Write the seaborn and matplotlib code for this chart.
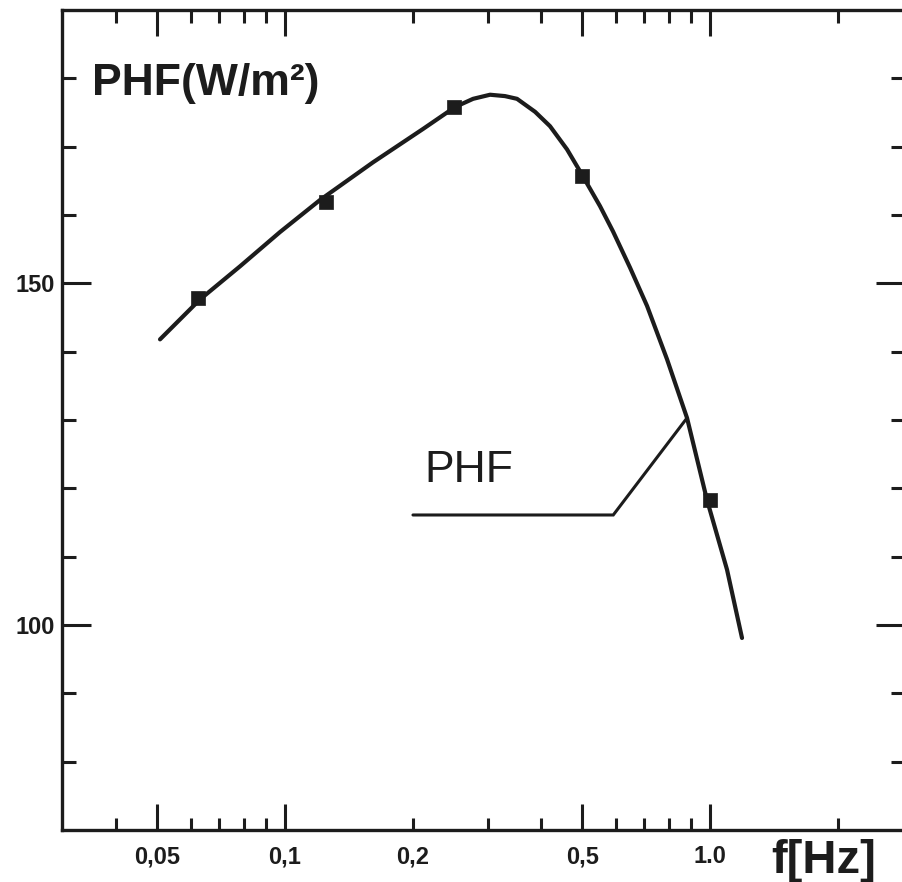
import numpy as np
import pandas as pd
import matplotlib
matplotlib.use("Agg")
import matplotlib.pyplot as plt
import matplotlib.ticker as mticker
import seaborn as sns

# ---- data ----
freq_points = [0.0625, 0.125, 0.25, 0.5, 1.0]
phf_points = [147.9, 161.9, 175.8, 165.7, 118.3]

curve_freq = [0.0508, 0.0631, 0.0784, 0.0973, 0.1209, 0.161, 0.2113, 0.2512,
              0.277, 0.3037, 0.3293, 0.3515, 0.3876, 0.4202, 0.4609, 0.4944,
              0.5510, 0.5912, 0.6483, 0.7109, 0.7921, 0.8829, 0.9838, 1.0965,
              1.1893]
curve_phf = [141.8, 147.65, 152.5, 157.5, 162.2, 167.7, 172.6, 175.8,
             177.0, 177.6, 177.4, 177.0, 175.1, 173.0, 169.6, 166.4,
             161.3, 157.6, 152.3, 146.7, 138.9, 130.3, 118.3, 108.1,
             98.1]

leader_freq = [0.2, 0.592, 0.8829]
leader_phf = [116.1, 116.1, 130.3]

x_major = [0.05, 0.1, 0.5, 1.0]
x_major_labels = ["0,05", "0,1", "0,5", "1.0"]
x_minor = [0.04, 0.06, 0.07, 0.08, 0.09, 0.2, 0.3, 0.4, 0.6, 0.7, 0.8, 0.9, 2.0]
x_minor_labels = ["", "", "", "", "", "0,2", "", "", "", "", "", "", ""]
y_major = [100, 150]
y_minor = [80, 90, 110, 120, 130, 140, 160, 170, 180]

sns.set_style("ticks")
plt.rcParams["font.family"] = ["Liberation Sans", "DejaVu Sans"]

ink = "#1c1c1c"
W, H = 903, 882
fig = plt.figure(figsize=(W / 100, H / 100), dpi=100)
ax = fig.add_axes([62 / W, (H - 830) / H, (905 - 62) / W, (830 - 10) / H])

curve_df = pd.DataFrame({"f": curve_freq, "phf": curve_phf})
pts_df = pd.DataFrame({"f": freq_points, "phf": phf_points})

sns.lineplot(data=curve_df, x="f", y="phf", ax=ax, color=ink, lw=3.0,
             sort=False, estimator=None)
sns.scatterplot(data=pts_df, x="f", y="phf", ax=ax, marker="s", s=110,
                color=ink, edgecolor=ink, linewidth=0.5, zorder=5)
ax.plot(leader_freq, leader_phf, color=ink, lw=2.2, solid_joinstyle="miter")

ax.set_xscale("log")
ax.set_xlim(0.02987, 2.876)
ax.set_ylim(70, 190)

ax.xaxis.set_major_locator(mticker.FixedLocator(x_major))
ax.xaxis.set_major_formatter(mticker.FixedFormatter(x_major_labels))
ax.xaxis.set_minor_locator(mticker.FixedLocator(x_minor))
ax.xaxis.set_minor_formatter(mticker.FixedFormatter(x_minor_labels))
ax.yaxis.set_major_locator(mticker.FixedLocator(y_major))
ax.yaxis.set_minor_locator(mticker.FixedLocator(y_minor))

ax.tick_params(axis="x", which="both", direction="in", top=True, bottom=True,
               width=2.2, color=ink, pad=11, labelsize=17)
ax.tick_params(axis="x", which="major", length=19)
ax.tick_params(axis="x", which="minor", length=9)
ax.tick_params(axis="y", which="both", direction="in", left=True, right=True,
               width=2.2, color=ink, pad=5, labelsize=17)
ax.tick_params(axis="y", which="major", length=21)
ax.tick_params(axis="y", which="minor", length=10)
for lab in ax.get_xticklabels(which="both") + ax.get_yticklabels():
    lab.set_fontweight("bold")
    lab.set_color(ink)

for side in ["left", "bottom", "top", "right"]:
    ax.spines[side].set_linewidth(2.4)
    ax.spines[side].set_color(ink)

ax.set_xlabel("")
ax.set_ylabel("")

fig.text(92 / W, 1 - 95 / H, "PHF(W/m²)", fontsize=32, fontweight="bold",
         color=ink, ha="left", va="baseline")
ax.text(0.213, 121.0, "PHF", fontsize=32, color=ink, ha="left", va="baseline")
fig.text(771 / W, 1 - 873 / H, "f[Hz]", fontsize=34, fontweight="bold",
         color=ink, ha="left", va="baseline")

fig.savefig("out.png", dpi=100, facecolor="white")
